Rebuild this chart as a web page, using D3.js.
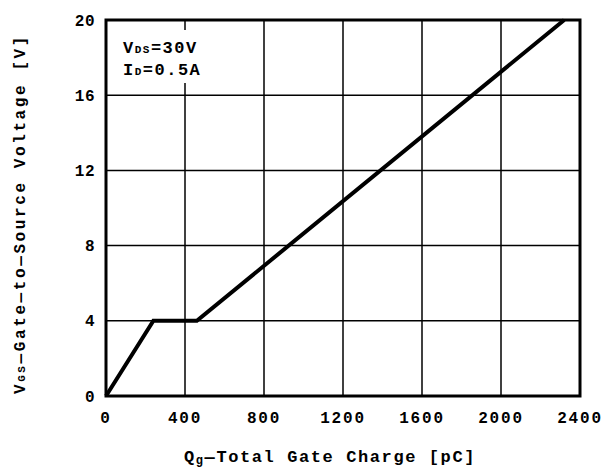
<!DOCTYPE html>
<html><head><meta charset="utf-8">
<script src="https://cdn.jsdelivr.net/npm/d3@7"></script>
<style>body{margin:0;background:#fff}text{font-family:"Liberation Mono","DejaVu Sans Mono",monospace;font-weight:bold;fill:#000}</style>
</head><body><svg id="c" width="612" height="468"></svg>
<script>
const qg = [0, 240, 460, 2320];
const vgs = [0, 4, 4, 20];
const xTicks = [0, 400, 800, 1200, 1600, 2000, 2400];
const yTicks = [0, 4, 8, 12, 16, 20];

const svg = d3.select("#c");
const L = 106, R = 580, T = 20, B = 396;
const x = d3.scaleLinear().domain([0, 2400]).range([L, R]);
const y = d3.scaleLinear().domain([0, 20]).range([B, T]);

// grid
svg.append("g").selectAll("line").data(xTicks.slice(1, -1)).join("line")
  .attr("x1", d => x(d)).attr("x2", d => x(d)).attr("y1", T).attr("y2", B)
  .attr("stroke", "#000").attr("stroke-width", 1.5);
svg.append("g").selectAll("line").data(yTicks.slice(1, -1)).join("line")
  .attr("y1", d => y(d)).attr("y2", d => y(d)).attr("x1", L).attr("x2", R)
  .attr("stroke", "#000").attr("stroke-width", 1.5);

// annotation background
svg.append("rect").attr("x", 115).attr("y", 30).attr("width", 100).attr("height", 53).attr("fill", "#fff");

// frame
svg.append("rect").attr("x", L).attr("y", T).attr("width", R - L).attr("height", B - T)
  .attr("fill", "none").attr("stroke", "#000").attr("stroke-width", 3);

// curve
svg.append("path").datum(qg.map((q, i) => [q, vgs[i]]))
  .attr("d", d3.line().x(d => x(d[0])).y(d => y(d[1])))
  .attr("fill", "none").attr("stroke", "#000").attr("stroke-width", 4).attr("stroke-linejoin", "miter");

// tick labels
svg.append("g").selectAll("text").data(xTicks).join("text")
  .attr("x", d => x(d)).attr("y", 423).attr("text-anchor", "middle").attr("font-size", 16)
  .attr("letter-spacing", 1.8).text(d => d);
svg.append("g").selectAll("text").data(yTicks).join("text")
  .attr("x", 95).attr("y", d => y(d) + 5.5).attr("text-anchor", "end").attr("font-size", 16)
  .attr("letter-spacing", 0.5).text(d => d);

// axis titles
svg.append("text").attr("x", 330).attr("y", 462).attr("text-anchor", "middle").attr("font-size", 17)
  .attr("letter-spacing", 1.6)
  .html('Q<tspan font-size="12" dy="2">g</tspan><tspan dy="-2">—Total Gate Charge [pC]</tspan>');
svg.append("text").attr("transform", "translate(25,214) rotate(-90)").attr("text-anchor", "middle").attr("font-size", 16)
  .attr("letter-spacing", 2.6)
  .html('V<tspan font-size="11">GS</tspan>—Gate—to—Source Voltage [V]');

// annotation
svg.append("text").attr("x", 123).attr("y", 53).attr("font-size", 17).attr("letter-spacing", 1.5)
  .html('V<tspan font-size="11">DS</tspan>=30V');
svg.append("text").attr("x", 123).attr("y", 75).attr("font-size", 17).attr("letter-spacing", 1.5)
  .html('I<tspan font-size="11">D</tspan>=0.5A');
</script></body></html>
